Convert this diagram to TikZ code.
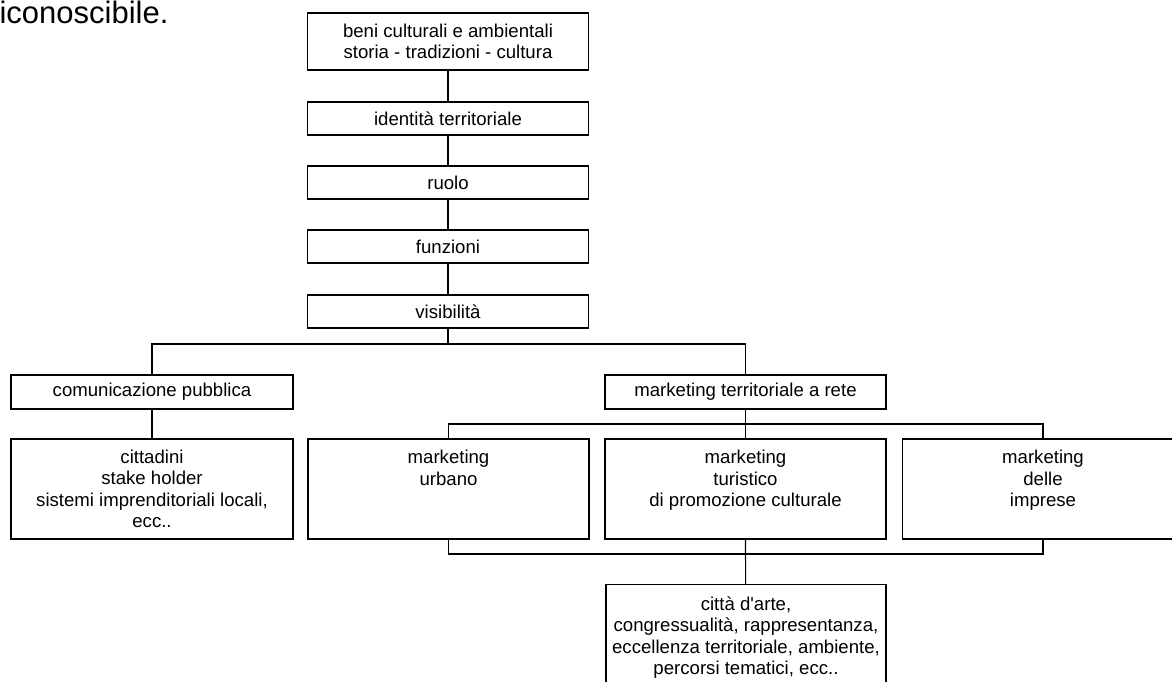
\documentclass[tikz,border=0pt]{standalone}
\usepackage{fontspec}
\newfontfamily\boxfont{Liberation Sans}
\usetikzlibrary{positioning}

\begin{document}
\begin{tikzpicture}[x=1pt,y=-1pt,line width=1.1pt,
  box/.style={draw,rectangle,inner sep=0pt,align=center,minimum width=281pt,font=\boxfont\fontsize{18.6}{21.5}\selectfont},
  smallbox/.style={box,minimum height=33pt},
  bigbox/.style={box,minimum height=100pt}]
\useasboundingbox (0,0) rectangle (1172,681);
\clip (0,0) rectangle (1172,681);

\node [anchor=base west,inner sep=0pt,font=\boxfont\fontsize{31}{36}\selectfont] (riga) at (-1,23) {iconoscibile.};

\node [box,minimum height=57pt] (beni) at (448,41.5) {beni culturali e ambientali\\storia - tradizioni - cultura};
\node [smallbox] (identita) at (448,118.5) {identità territoriale};
\node [smallbox] (ruolo) at (448,182.5) {ruolo};
\node [smallbox] (funzioni) at (448,246.5) {funzioni};
\node [smallbox] (visibilita) at (448,311.5) {visibilità};

\node [smallbox,minimum height=34pt,minimum width=282pt] (comunicazione) at (152,392) {comunicazione pubblica};
\node [smallbox,minimum height=34pt] (rete) at (745.5,392) {marketing territoriale a rete};

\node [bigbox,minimum width=282pt] (cittadini) at (152,489) {cittadini\\stake holder\\sistemi imprenditoriali locali,\\ecc..};
\node [bigbox] (urbano) at (448.5,489) {marketing\\urbano\\\mbox{}\\\mbox{}};
\node [bigbox] (turistico) at (745.5,489) {marketing\\turistico\\di promozione culturale\\\mbox{}};
\node [bigbox] (imprese) at (1043,489) {marketing\\delle\\imprese\\\mbox{}};

\node [box,minimum height=106pt,minimum width=280pt] (citta) at (746,637.5) {città d\textquotesingle arte,\\congressualità, rappresentanza,\\eccellenza territoriale, ambiente,\\percorsi tematici, ecc..};

\coordinate (j1) at (448,344);
\coordinate (j2) at (745.5,424);
\coordinate (j3) at (745.5,554);

\draw [-] (beni) -- (identita);
\draw [-] (identita) -- (ruolo);
\draw [-] (ruolo) -- (funzioni);
\draw [-] (funzioni) -- (visibilita);
\draw [-] (visibilita) -- (j1);
\draw [-] (comunicazione) |- (j1) -| (rete);
\draw [-] (comunicazione) -- (cittadini);
\draw [-] (rete) -- (j2);
\draw [-] (urbano) |- (j2) -| (imprese);
\draw [-] (j2) -- (turistico);
\draw [-] (urbano) |- (j3) -| (imprese);
\draw [-] (turistico) -- (j3) -- (citta);
\end{tikzpicture}
\end{document}
